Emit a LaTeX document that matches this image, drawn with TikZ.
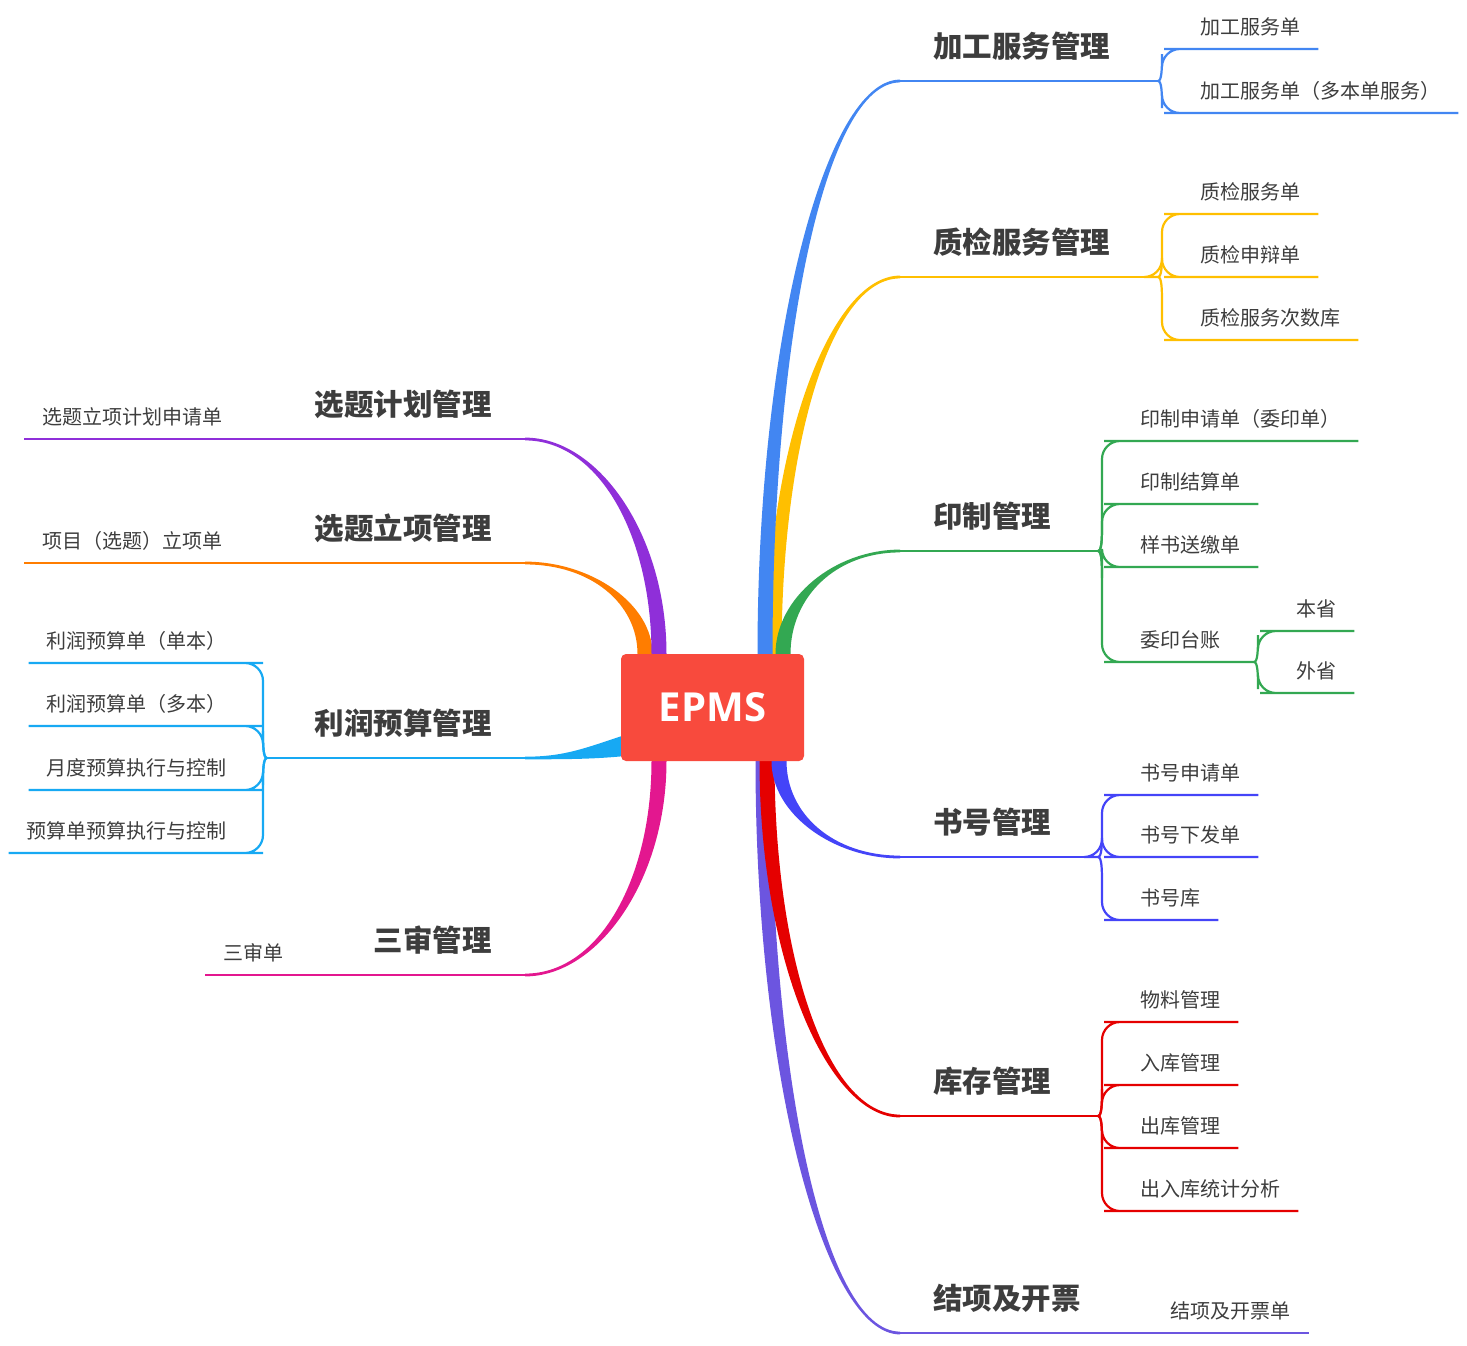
\documentclass[tikz,border=0pt]{standalone}
\usepackage{fontspec}
\usetikzlibrary{calc,positioning}
\newfontfamily\cjk{Noto Sans CJK SC}
\newfontfamily\boxfont{Open Sans}
\definecolor{ink}{HTML}{3D3D3D}
\definecolor{boxred}{HTML}{F84A3D}
\definecolor{c-jg}{HTML}{4286F2}
\definecolor{c-zj}{HTML}{FFBF00}
\definecolor{c-yz}{HTML}{33A852}
\definecolor{c-sh}{HTML}{4444F8}
\definecolor{c-kc}{HTML}{E50000}
\definecolor{c-jx}{HTML}{6C55E0}
\definecolor{c-xj}{HTML}{8F2FD9}
\definecolor{c-xl}{HTML}{FF7D00}
\definecolor{c-lr}{HTML}{17A9F3}
\definecolor{c-ss}{HTML}{E3178F}

% thick tapered branch: colour, start, end, side
\newcommand\mainlimb[4]{%
  \fill[#1] ($(#2)+(-7.5,0)$)
    .. controls ($(#2)!.552!(#2|-#3)+(-7.5,0)$) and ($(#3)!.552!(#2|-#3)+(0,{1.4*(#4)})$)
    .. ($(#3)+(0,{1.4*(#4)})$) -- ($(#3)+(0,{-1.4*(#4)})$)
    .. controls ($(#3)!.552!(#2|-#3)+(0,{-1.4*(#4)})$) and ($(#2)!.552!(#2|-#3)+(7.5,0)$)
    .. ($(#2)+(7.5,0)$) -- cycle;}

\begin{document}
\begin{tikzpicture}[x=1pt,y=-1pt,
    topic/.style={font=\cjk\bfseries\fontsize{29.5}{30}\selectfont, text=ink,
      inner xsep=33pt, inner ysep=0pt, text depth=23pt},
    leaf/.style={font=\cjk\fontsize{20}{22}\selectfont, text=ink,
      inner xsep=18pt, inner ysep=0pt, text depth=14.5pt},
    twig/.style={line width=2.2pt, rounded corners=18pt}]
  \useasboundingbox (0,0) rectangle (1467,1345);

  % branch starts at the box
  \coordinate (s-jg) at (765,654);
  \coordinate (s-zj) at (774,654);
  \coordinate (s-yz) at (783,654);
  \coordinate (s-jx) at (763,761);
  \coordinate (s-kc) at (767,761);
  \coordinate (s-sh) at (779,761);
  \coordinate (s-xl) at (645,654);
  \coordinate (s-xj) at (659,654);
  \coordinate (s-ss) at (659,761);
  \coordinate (s-lr) at (625,745);
  % topic ends
  \coordinate (e-jg) at (900,81);
  \coordinate (e-zj) at (900,277);
  \coordinate (e-yz) at (900,551);
  \coordinate (e-sh) at (900,857);
  \coordinate (e-kc) at (900,1116);
  \coordinate (e-jx) at (900,1333);
  \coordinate (e-xj) at (525,439);
  \coordinate (e-xl) at (525,563);
  \coordinate (e-lr) at (525,758);
  \coordinate (e-ss) at (525,975);
  % brackets
  \coordinate (j-jg) at (1158,81);
  \coordinate (j-zj) at (1158,277);
  \coordinate (j-yz) at (1098,551);
  \coordinate (j-wy) at (1254,662);
  \coordinate (j-sh) at (1098,857);
  \coordinate (j-kc) at (1098,1116);
  \coordinate (j-lr) at (267,758);

  \mainlimb{c-zj}{s-zj}{e-zj}{-1}
  \mainlimb{c-jg}{s-jg}{e-jg}{-1}
  \mainlimb{c-yz}{s-yz}{e-yz}{-1}
  \mainlimb{c-jx}{s-jx}{e-jx}{1}
  \mainlimb{c-kc}{s-kc}{e-kc}{1}
  \mainlimb{c-sh}{s-sh}{e-sh}{1}
  \mainlimb{c-xl}{s-xl}{e-xl}{1}
  \mainlimb{c-xj}{s-xj}{e-xj}{1}
  \mainlimb{c-ss}{s-ss}{e-ss}{-1}
  \fill[c-lr] ($(s-lr)+(0,-10)$) .. controls ($(s-lr)+(-40,3)$) and ($(e-lr)+(40,-1.3)$)
    .. ($(e-lr)+(0,-1.3)$) -- ($(e-lr)+(0,1.3)$) .. controls ($(e-lr)+(45,1.3)$)
    and ($(s-lr)+(-30,14)$) .. ($(s-lr)+(0,11)$) -- cycle;

  \node[fill=boxred, rounded corners=5pt, minimum width=183pt, minimum height=107pt,
    text=white, font=\boxfont\bfseries\fontsize{40}{40}\selectfont] (epms) at (712.5,707.5) {EPMS};

  % topics
  \node[topic, anchor=south west] (t-jg) at (e-jg) {加工服务管理};
  \node[topic, anchor=south west] (t-zj) at (e-zj) {质检服务管理};
  \node[topic, anchor=south west] (t-yz) at (e-yz) {印制管理};
  \node[topic, anchor=south west] (t-sh) at (e-sh) {书号管理};
  \node[topic, anchor=south west] (t-kc) at (e-kc) {库存管理};
  \node[topic, anchor=south west] (t-jx) at (e-jx) {结项及开票};
  \node[topic, anchor=south east] (t-xj) at (e-xj) {选题计划管理};
  \node[topic, anchor=south east] (t-xl) at (e-xl) {选题立项管理};
  \node[topic, anchor=south east] (t-lr) at (e-lr) {利润预算管理};
  \node[topic, anchor=south east] (t-ss) at (e-ss) {三审管理};

  % leaves
  \node[leaf, anchor=south west] (l-jg1) at (1182,49) {加工服务单};
  \node[leaf, anchor=south west] (l-jg2) at (1182,113) {加工服务单（多本单服务）};
  \node[leaf, anchor=south west] (l-zj1) at (1182,214) {质检服务单};
  \node[leaf, anchor=south west] (l-zj2) at (1182,277) {质检申辩单};
  \node[leaf, anchor=south west] (l-zj3) at (1182,340) {质检服务次数库};
  \node[leaf, anchor=south west] (l-yz1) at (1122,441) {印制申请单（委印单）};
  \node[leaf, anchor=south west] (l-yz2) at (1122,504) {印制结算单};
  \node[leaf, anchor=south west] (l-yz3) at (1122,567) {样书送缴单};
  \node[leaf, anchor=south west] (l-yz4) at (1122,662) {委印台账};
  \node[leaf, anchor=south west] (l-wy1) at (1278,631) {本省};
  \node[leaf, anchor=south west] (l-wy2) at (1278,693) {外省};
  \node[leaf, anchor=south west] (l-sh1) at (1122,795) {书号申请单};
  \node[leaf, anchor=south west] (l-sh2) at (1122,857) {书号下发单};
  \node[leaf, anchor=south west] (l-sh3) at (1122,920) {书号库};
  \node[leaf, anchor=south west] (l-kc1) at (1122,1022) {物料管理};
  \node[leaf, anchor=south west] (l-kc2) at (1122,1085) {入库管理};
  \node[leaf, anchor=south west] (l-kc3) at (1122,1148) {出库管理};
  \node[leaf, anchor=south west] (l-kc4) at (1122,1211) {出入库统计分析};
  \node[leaf, anchor=south east] (l-jx1) at (1309,1333) {结项及开票单};
  \node[leaf, anchor=south west] (l-xj1) at (24,439) {选题立项计划申请单};
  \node[leaf, anchor=south west] (l-xl1) at (24,563) {项目（选题）立项单};
  \node[leaf, anchor=south east] (l-lr1) at (245,663) {利润预算单（单本）};
  \node[leaf, anchor=south east] (l-lr2) at (245,726) {利润预算单（多本）};
  \node[leaf, anchor=south east] (l-lr3) at (245,790) {月度预算执行与控制};
  \node[leaf, anchor=south east] (l-lr4) at (245,853) {预算单预算执行与控制};
  \node[leaf, anchor=south west] (l-ss1) at (205,975) {三审单};

  % thin lines
  \draw[twig, c-jg] (e-jg) -- (j-jg);
  \foreach \n/\s [evaluate=\s as \ia using 180+90*\s] in {1/-1,2/1}
    \draw[twig, c-jg] (j-jg) to[out=0,in=\ia] ++(4,9*\s) |- (l-jg\n.south west) -- (l-jg\n.south east);
  \draw[twig, c-zj] (e-zj) -- (j-zj);
  \foreach \n/\s [evaluate=\s as \ia using 180+90*\s] in {1/-1,2/0,3/1}
    \draw[twig, c-zj] (j-zj) to[out=0,in=\ia] ++(4,9*\s) |- (l-zj\n.south west) -- (l-zj\n.south east);
  \draw[twig, c-yz] (e-yz) -- (j-yz);
  \foreach \n/\s [evaluate=\s as \ia using 180+90*\s] in {1/-1,2/-1,3/1}
    \draw[twig, c-yz] (j-yz) to[out=0,in=\ia] ++(4,9*\s) |- (l-yz\n.south west) -- (l-yz\n.south east);
  \draw[twig, c-yz] (j-yz) to[out=0,in=270] ++(4,9) |- (l-yz4.south west) -- (j-wy);
  \foreach \n/\s [evaluate=\s as \ia using 180+90*\s] in {1/-1,2/1}
    \draw[twig, c-yz] (j-wy) to[out=0,in=\ia] ++(4,9*\s) |- (l-wy\n.south west) -- (l-wy\n.south east);
  \draw[twig, c-sh] (e-sh) -- (j-sh);
  \foreach \n/\s [evaluate=\s as \ia using 180+90*\s] in {1/-1,2/0,3/1}
    \draw[twig, c-sh] (j-sh) to[out=0,in=\ia] ++(4,9*\s) |- (l-sh\n.south west) -- (l-sh\n.south east);
  \draw[twig, c-kc] (e-kc) -- (j-kc);
  \foreach \n/\s [evaluate=\s as \ia using 180+90*\s] in {1/-1,2/-1,3/1,4/1}
    \draw[twig, c-kc] (j-kc) to[out=0,in=\ia] ++(4,9*\s) |- (l-kc\n.south west) -- (l-kc\n.south east);
  \draw[twig, c-jx] (e-jx) -- (l-jx1.south east);
  \draw[twig, c-xj] (e-xj) -- (l-xj1.south west);
  \draw[twig, c-xl] (e-xl) -- (l-xl1.south west);
  \draw[twig, c-lr] (e-lr) -- (j-lr);
  \foreach \n/\s [evaluate=\s as \ia using -90*\s] in {1/-1,2/-1,3/1,4/1}
    \draw[twig, c-lr] (j-lr) to[out=180,in=\ia] ++(-4,9*\s) |- (l-lr\n.south east) -- (l-lr\n.south west);
  \draw[twig, c-ss] (e-ss) -- (l-ss1.south west);
\end{tikzpicture}
\end{document}
